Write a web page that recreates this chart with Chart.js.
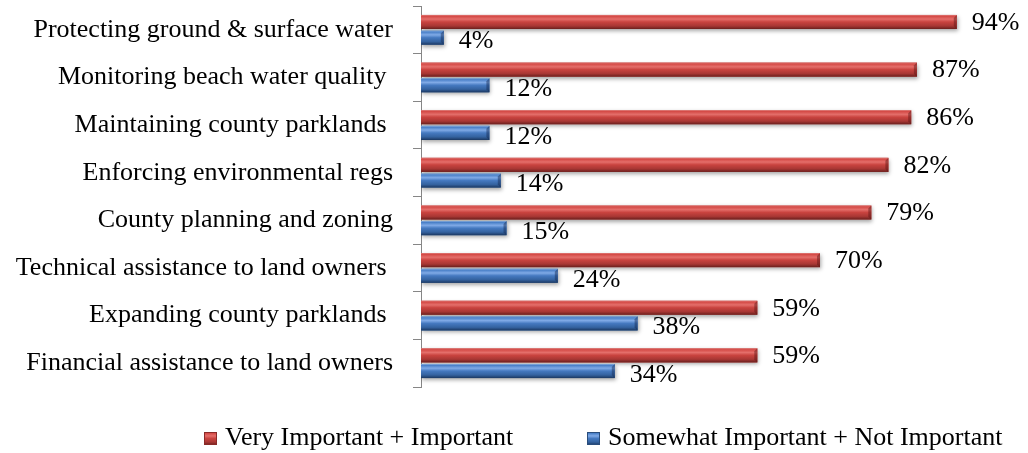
<!DOCTYPE html>
<html><head><meta charset="utf-8">
<script src="https://cdn.jsdelivr.net/npm/chart.js@4.4.0/dist/chart.umd.min.js"></script>
<style>html,body{margin:0;padding:0;background:#fff;overflow:hidden}</style>
</head><body>
<canvas id="c" width="1028" height="453"></canvas>
<script>
const categories = [
  "Protecting ground & surface water",
  "Monitoring beach water quality ",
  "Maintaining county parklands ",
  "Enforcing environmental regs",
  "County planning and zoning",
  "Technical assistance to land owners ",
  "Expanding county parklands ",
  "Financial assistance to land owners"
];
const seriesNames = ["Very Important + Important", "Somewhat Important + Not Important"];
const importantValues = [94, 87, 86, 82, 79, 70, 59, 59];
const notImportantValues = [4, 12, 12, 14, 15, 24, 38, 34];
const xMin = 0, xMax = 100;

const FONT = "'Liberation Serif', 'Times New Roman', serif";
const baseColors = ['#c0504d', '#4f81bd'];
const gradStops = [
  [[0,'#e07f7c'],[0.1,'#d44a46'],[0.3,'#e46e6a'],[0.5,'#c9433f'],[0.78,'#a83734'],[1,'#6a1f1d']],
  [[0,'#8db1e0'],[0.1,'#4a80c8'],[0.3,'#80aae6'],[0.5,'#4579c0'],[0.78,'#34629f'],[1,'#1b3760']]
];
function makeGrad(ctx, top, h, di){
  const g = ctx.createLinearGradient(0, top, 0, top + h);
  gradStops[di].forEach(s => g.addColorStop(s[0], s[1]));
  return g;
}

const barStyle = {
  id: 'barStyle',
  beforeDatasetsDraw(chart){
    const ctx = chart.ctx;
    ctx.save();
    ctx.shadowColor = 'rgba(0,0,0,0.35)';
    ctx.shadowBlur = 4;
    ctx.shadowOffsetX = 1;
    ctx.shadowOffsetY = 2;
  },
  afterDatasetsDraw(chart){
    const ctx = chart.ctx;
    ctx.restore();
    ctx.save();
    chart.data.datasets.forEach((ds, di) => {
      const meta = chart.getDatasetMeta(di);
      meta.data.forEach((el, i) => {
        const left = Math.min(el.base, el.x), w = Math.abs(el.x - el.base);
        const top = el.y - el.height / 2, h = el.height;
        ctx.fillStyle = makeGrad(ctx, top, h, di);
        ctx.fillRect(left, top, w, h);
        const bw = Math.min(3, w);
        ctx.fillStyle = di === 0 ? 'rgba(90,20,20,0.45)' : 'rgba(20,40,80,0.45)';
        ctx.beginPath();
        ctx.moveTo(left + w - bw, top + bw);
        ctx.lineTo(left + w, top);
        ctx.lineTo(left + w, top + h);
        ctx.lineTo(left + w - bw, top + h - bw);
        ctx.closePath();
        ctx.fill();
        ctx.fillStyle = '#000';
        ctx.font = '26px ' + FONT;
        ctx.textAlign = 'left';
        ctx.textBaseline = 'middle';
        ctx.fillText(ds.data[i] + '%', el.x + 15, el.y + (di === 0 ? 1 : 4));
      });
    });
    ctx.restore();
  }
};

const customLegend = {
  id: 'customLegend',
  afterDraw(chart){
    const ctx = chart.ctx;
    const y = 438;
    const boxX = [204, 587];
    ctx.save();
    ctx.font = '26px ' + FONT;
    ctx.textAlign = 'left';
    ctx.textBaseline = 'middle';
    chart.data.datasets.forEach((ds, di) => {
      const bx = boxX[di], s = 13, by = y - 6;
      ctx.fillStyle = makeGrad(ctx, by, s, di);
      ctx.fillRect(bx, by, s, s);
      ctx.strokeStyle = di === 0 ? '#8a2a28' : '#2a4d7c';
      ctx.lineWidth = 1;
      ctx.strokeRect(bx + 0.5, by + 0.5, s - 1, s - 1);
      ctx.fillStyle = '#000';
      ctx.fillText(ds.label, bx + s + 8, y);
    });
    ctx.restore();
  }
};

new Chart(document.getElementById('c'), {
  type: 'bar',
  data: {
    labels: categories,
    datasets: [
      { label: seriesNames[0], data: importantValues, backgroundColor: baseColors[0], borderWidth: 0,
        categoryPercentage: 0.66, barPercentage: 0.9 },
      { label: seriesNames[1], data: notImportantValues, backgroundColor: baseColors[1], borderWidth: 0,
        categoryPercentage: 0.66, barPercentage: 0.9 }
    ]
  },
  options: {
    indexAxis: 'y',
    responsive: false,
    animation: false,
    layout: { padding: { top: 6, right: 37, bottom: 66, left: 0 } },
    plugins: { legend: { display: false }, tooltip: { enabled: false } },
    scales: {
      x: { display: false, min: xMin, max: xMax },
      y: {
        grid: { display: true, drawOnChartArea: false, drawTicks: true, tickLength: 8, color: '#868686', offset: true },
        border: { display: true, color: '#868686', width: 1 },
        ticks: { font: { family: FONT, size: 26 }, color: '#000', padding: 20, autoSkip: false },
        afterFit(s){ s.width = 421; s.paddingTop = 0; s.paddingBottom = 0; }
      }
    }
  },
  plugins: [barStyle, customLegend]
});
</script>
</body></html>
